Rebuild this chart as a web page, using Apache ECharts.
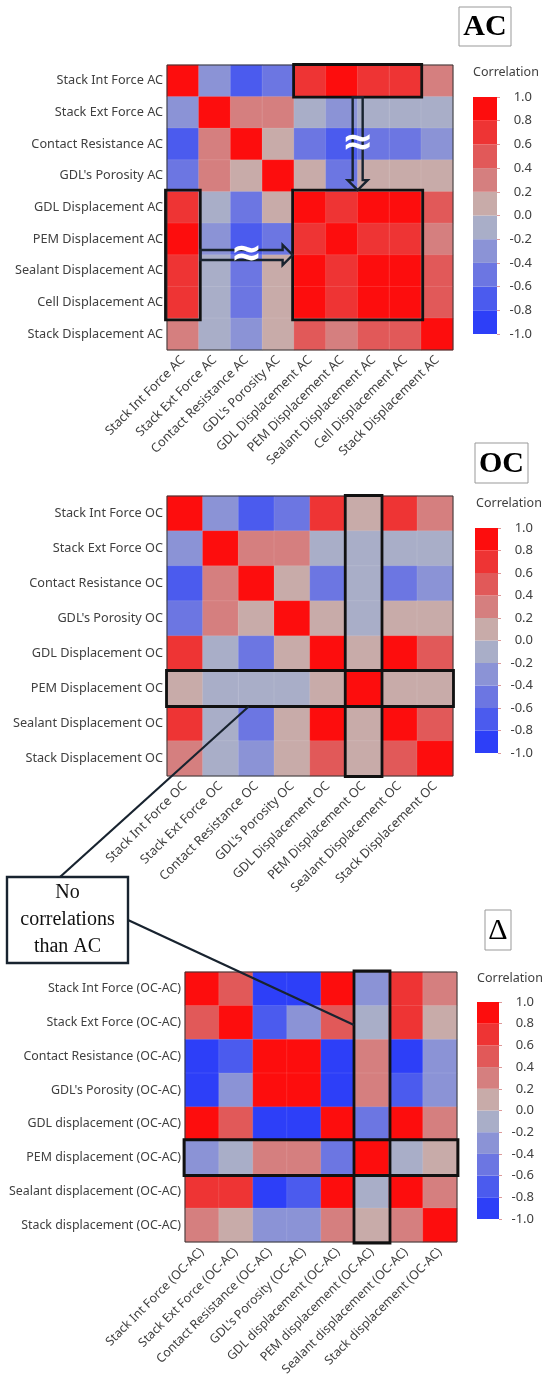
<!DOCTYPE html>
<html><head><meta charset="utf-8">
<script src="https://cdn.jsdelivr.net/npm/echarts/dist/echarts.min.js"></script>
<style>html,body{margin:0;padding:0;background:#fff}#c{width:550px;height:1379px}</style>
</head><body><div id="c"></div>
<script>
const acLabels = ['Stack Int Force AC','Stack Ext Force AC','Contact Resistance AC',"GDL's Porosity AC",'GDL Displacement AC','PEM Displacement AC','Sealant Displacement AC','Cell Displacement AC','Stack Displacement AC'];
const ocLabels = ['Stack Int Force OC','Stack Ext Force OC','Contact Resistance OC',"GDL's Porosity OC",'GDL Displacement OC','PEM Displacement OC','Sealant Displacement OC','Stack Displacement OC'];
const dLabels = ['Stack Int Force (OC-AC)','Stack Ext Force (OC-AC)','Contact Resistance (OC-AC)',"GDL's Porosity (OC-AC)",'GDL displacement (OC-AC)','PEM displacement (OC-AC)','Sealant displacement (OC-AC)','Stack displacement (OC-AC)'];

const acValues = [
  [ 1.0,-0.3,-0.7,-0.5, 0.7, 0.9, 0.7, 0.7, 0.3],
  [-0.3, 1.0, 0.3, 0.3,-0.1,-0.3,-0.1,-0.1,-0.1],
  [-0.7, 0.3, 1.0, 0.1,-0.5,-0.7,-0.5,-0.5,-0.3],
  [-0.5, 0.3, 0.1, 1.0, 0.1,-0.5, 0.1, 0.1, 0.1],
  [ 0.7,-0.1,-0.5, 0.1, 0.9, 0.7, 0.9, 0.9, 0.5],
  [ 0.9,-0.3,-0.7,-0.5, 0.7, 0.9, 0.7, 0.7, 0.3],
  [ 0.7,-0.1,-0.5, 0.1, 0.9, 0.7, 0.9, 0.9, 0.5],
  [ 0.7,-0.1,-0.5, 0.1, 0.9, 0.7, 0.9, 0.9, 0.5],
  [ 0.3,-0.1,-0.3, 0.1, 0.5, 0.3, 0.5, 0.5, 1.0]
];
const ocValues = [
  [ 1.0,-0.3,-0.7,-0.5, 0.7, 0.1, 0.7, 0.3],
  [-0.3, 1.0, 0.3, 0.3,-0.1,-0.1,-0.1,-0.1],
  [-0.7, 0.3, 1.0, 0.1,-0.5,-0.1,-0.5,-0.3],
  [-0.5, 0.3, 0.1, 1.0, 0.1,-0.1, 0.1, 0.1],
  [ 0.7,-0.1,-0.5, 0.1, 0.9, 0.1, 0.9, 0.5],
  [ 0.1,-0.1,-0.1,-0.1, 0.1, 1.0, 0.1, 0.1],
  [ 0.7,-0.1,-0.5, 0.1, 0.9, 0.1, 0.9, 0.5],
  [ 0.3,-0.1,-0.3, 0.1, 0.5, 0.1, 0.5, 1.0]
];
const dValues = [
  [ 1.0, 0.5,-0.9,-0.9, 0.9,-0.3, 0.7, 0.3],
  [ 0.5, 1.0,-0.7,-0.3, 0.5,-0.1, 0.7, 0.1],
  [-0.9,-0.7, 1.0, 0.9,-0.9, 0.3,-0.9,-0.3],
  [-0.9,-0.3, 0.9, 1.0,-0.9, 0.3,-0.7,-0.3],
  [ 0.9, 0.5,-0.9,-0.9, 1.0,-0.5, 0.9, 0.3],
  [-0.3,-0.1, 0.3, 0.3,-0.5, 1.0,-0.1, 0.1],
  [ 0.7, 0.7,-0.9,-0.7, 0.9,-0.1, 1.0, 0.3],
  [ 0.3, 0.1,-0.3,-0.3, 0.3, 0.1, 0.3, 1.0]
];
const bandEdges = [-1.0,-0.8,-0.6,-0.4,-0.2,0.0,0.2,0.4,0.6,0.8,1.0];
const bandColors = ['#2d3ff8','#4b5bee','#6c76e2','#8b93d6','#a9aec8','#c8aba9','#d57f7f','#e15959','#ee3434','#fd0d0d'];

const chart = echarts.init(document.getElementById('c'), null, {renderer:'canvas'});
const LBL = '#404040';
const SANS = '"Noto Sans", "Open Sans", sans-serif';
const SERIF = '"Liberation Serif", "DejaVu Serif", serif';

const G = {
  ac: {left:167, top:65, width:286, height:285, n:9},
  oc: {left:167, top:496, width:286, height:280, n:8},
  d:  {left:185, top:972, width:272, height:270, n:8}
};
const CB = [
  {left:473, top:97, width:24, height:237},
  {left:475, top:528, width:23, height:225},
  {left:477, top:1002, width:22, height:217}
];

function toHeat(m){ const out=[]; m.forEach((row,r)=>row.forEach((v,c)=>out.push([c,r,v]))); return out; }
const bandData = bandColors.map((c,i)=>[0, bandEdges[i], bandEdges[i+1]]);

const grids = [G.ac, G.oc, G.d].map(g=>({left:g.left, top:g.top, width:g.width, height:g.height, containLabel:false, outerBoundsMode:'none'}))
  .concat(CB.map(b=>({left:b.left, top:b.top, width:b.width, height:b.height, containLabel:false, outerBoundsMode:'none'})));

const labelSets = [acLabels, ocLabels, dLabels];
const fsz = [12.7, 12.7, 12.4];
const xAxes = labelSets.map((L,i)=>({
  type:'category', gridIndex:i, data:L,
  axisLine:{show:false}, axisTick:{show:false}, splitLine:{show:false},
  axisLabel:{rotate:45, interval:0, margin:8, color:LBL, fontSize:fsz[i], fontFamily:SANS}
})).concat(CB.map((b,i)=>({type:'category', gridIndex:3+i, data:['c'], show:false})));
const yAxes = labelSets.map((L,i)=>({
  type:'category', gridIndex:i, data:L, inverse:true,
  axisLine:{show:false}, axisTick:{show:false}, splitLine:{show:false},
  axisLabel:{interval:0, margin:4, color:LBL, fontSize:fsz[i], fontFamily:SANS}
})).concat(CB.map((b,i)=>({
  type:'value', gridIndex:3+i, position:'right', min:-1, max:1, interval:0.2,
  axisLine:{show:false}, splitLine:{show:false},
  axisTick:{show:true, length:3, lineStyle:{color:'#d99', width:1}},
  axisLabel:{align:'right', margin:35, color:LBL, fontSize:13, fontFamily:SANS,
    formatter:v=>(Math.abs(v)<1e-9?0:v).toFixed(1)}
})));

const heatSeries = [acValues, ocValues, dValues].map((m,i)=>({
  type:'heatmap', xAxisIndex:i, yAxisIndex:i, data:toHeat(m),
  itemStyle:{borderColor:'rgba(255,255,255,0.18)', borderWidth:0.6},
  emphasis:{disabled:true}
}));
const cbSeries = CB.map((b,i)=>({
  type:'custom', xAxisIndex:3+i, yAxisIndex:3+i, data:bandData,
  encode:{x:0, y:[1,2]}, silent:true,
  renderItem:(params, api)=>{
    const hi = api.coord([0, api.value(2)]);
    const lo = api.coord([0, api.value(1)]);
    const w = api.size([1,0])[0];
    return {type:'rect', shape:{x:hi[0]-w/2, y:hi[1], width:w, height:lo[1]-hi[1]},
      style:{fill:bandColors[params.dataIndex]}};
  }
}));

const pieces = bandColors.map((c,i)=>i===9 ? {gte:bandEdges[i], lte:bandEdges[i+1], color:c} : {gte:bandEdges[i], lt:bandEdges[i+1], color:c});

// ---------- annotation graphics (layout-based) ----------
function cell(g, c0, c1, r0, r1, pad){
  const cw = g.width/g.n, ch = g.height/g.n; pad = pad||0;
  return {x:g.left + c0*cw - pad, y:g.top + r0*ch - pad, width:(c1-c0)*cw + 2*pad, height:(r1-r0)*ch + 2*pad};
}
const DARK = '#18232f';
const gr = [];
function rect(shape, lw, stroke){ gr.push({type:'rect', z:100, shape, style:{fill:null, stroke:stroke||'#111', lineWidth:lw}}); }
[G.ac, G.oc, G.d].forEach(g=>rect({x:g.left, y:g.top, width:g.width, height:g.height}, 1, '#333'));
const acTop = cell(G.ac,4,8,0,1,0.5), acLeft = cell(G.ac,0,1,4,8,1.5), acBig = cell(G.ac,4,8,4,8,1.5);
[acTop, acLeft, acBig].forEach(s=>rect(s, 2.8, '#111'));
(function(){
  const cx = acTop.x + acTop.width/2, y0 = acTop.y + acTop.height, y1 = acBig.y;
  gr.push({type:'polygon', z:101, shape:{points:[[cx-5,y0],[cx+5,y0],[cx+5,y1-10],[cx+10,y1-10],[cx,y1],[cx-10,y1-10],[cx-5,y1-10]]},
    style:{fill:null, stroke:DARK, lineWidth:2.4}});
  gr.push({type:'text', z:102, x:cx, y:(y0+y1)/2, style:{text:'≈', fill:'#fff', font:'bold 38px "DejaVu Sans", sans-serif', align:'center', verticalAlign:'middle'}});
  const cy = acLeft.y + acLeft.height/2, x0 = acLeft.x + acLeft.width, x1 = acBig.x;
  gr.push({type:'polygon', z:101, shape:{points:[[x0,cy-5],[x0,cy+5],[x1-10,cy+5],[x1-10,cy+10],[x1,cy],[x1-10,cy-10],[x1-10,cy-5]]},
    style:{fill:null, stroke:DARK, lineWidth:2.4}});
  gr.push({type:'text', z:102, x:(x0+x1)/2, y:cy, style:{text:'≈', fill:'#fff', font:'bold 38px "DejaVu Sans", sans-serif', align:'center', verticalAlign:'middle'}});
})();
const ocCol = cell(G.oc,5,6,0,8,0.5), ocRow = cell(G.oc,0,8,5,6,0.5);
rect(ocCol, 2.8); rect(ocRow, 2.8);
const dCol = cell(G.d,5,6,0,8,1), dRow = cell(G.d,0,8,5,6,1);
rect(dCol, 2.8); rect(dRow, 2.8);
const box = {x:7, y:877, width:121, height:86};
gr.push({type:'line', z:103, shape:{x1:60, y1:box.y, x2:ocRow.x + 2.3*(G.oc.width/8), y2:ocRow.y+ocRow.height}, style:{stroke:DARK, lineWidth:2.2}});
gr.push({type:'line', z:103, shape:{x1:box.x+box.width, y1:920, x2:dCol.x, y2:G.d.top + 1.57*(G.d.height/8)}, style:{stroke:DARK, lineWidth:2.2}});
gr.push({type:'rect', z:104, shape:box, style:{fill:'#fff', stroke:DARK, lineWidth:2.4}});
gr.push({type:'text', z:105, x:box.x+box.width/2, y:box.y+box.height/2, style:{text:'No\ncorrelations\nthan AC', fill:'#111', font:'20px '+SERIF, lineHeight:27, align:'center', verticalAlign:'middle'}});
function titleBox(b, txt, bold){
  gr.push({type:'rect', z:100, shape:b, style:{fill:'#fff', stroke:'#999', lineWidth:1}});
  gr.push({type:'text', z:101, x:b.x+b.width/2, y:b.y+b.height/2+1, style:{text:txt, fill:'#000', font:(bold?'bold ':'')+'30px '+SERIF, align:'center', verticalAlign:'middle'}});
}
titleBox({x:459, y:7, width:52, height:39}, 'AC', true);
titleBox({x:475, y:443, width:53, height:40}, 'OC', true);
titleBox({x:485, y:910, width:26, height:40}, 'Δ', false);
[[473,72],[476,503],[477,978]].forEach(p=>gr.push({type:'text', z:100, x:p[0], y:p[1], style:{text:'Correlation', fill:LBL, font:'12.5px '+SANS, align:'left', verticalAlign:'middle'}}));

chart.setOption({
  animation:false,
  backgroundColor:'#fff',
  grid:grids,
  xAxis:xAxes,
  yAxis:yAxes,
  visualMap:{type:'piecewise', show:false, seriesIndex:[0,1,2], dimension:2, pieces},
  series:heatSeries.concat(cbSeries),
  graphic:{elements:gr}
});
</script></body></html>
